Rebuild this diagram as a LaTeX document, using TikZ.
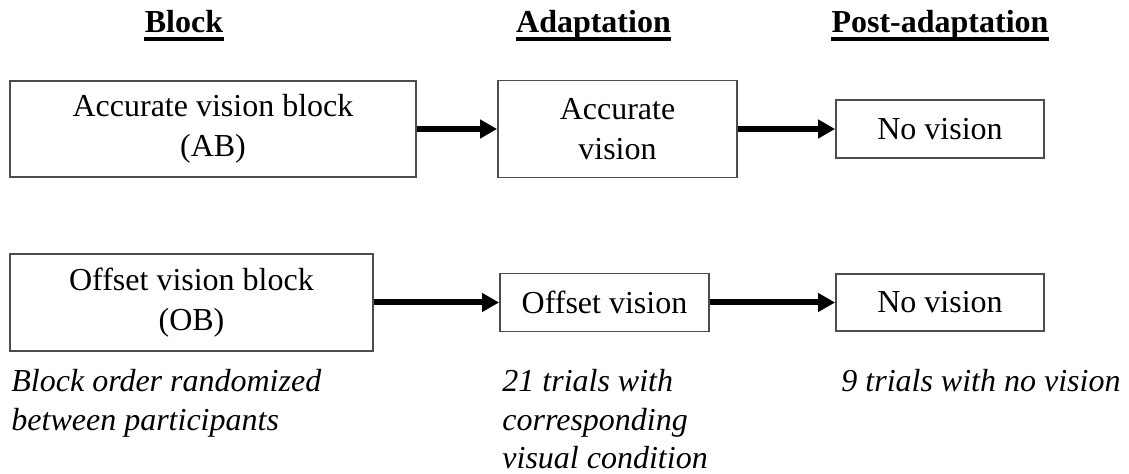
\documentclass[tikz,border=0pt]{standalone}
\usepackage{fontspec}
\setmainfont{Liberation Serif}
\usetikzlibrary{arrows.meta,positioning}

\begin{document}
\begin{tikzpicture}[
    x=0.5pt, y=-0.5pt,
    % Node styles
    stage/.style={rectangle, draw=black!70, line width=0.9pt, align=center, inner sep=0pt, font=\fontsize{16}{20}\selectfont},
    header/.style={inner sep=0pt, anchor=base, font=\fontsize{16}{20}\selectfont\bfseries},
    note/.style={inner sep=0pt, anchor=north west, align=left, font=\fontsize{16}{19.25}\selectfont\itshape},
    flow/.style={-{Triangle[length=8.5pt, width=9pt]}, line width=3pt, black},
    uline/.style={line width=1.7pt, black}
]

\useasboundingbox (0,0) rectangle (1129,474);

% Column headers
\node[header] (blockhdr) at (184,33) {Block};
\node[header] (adapthdr) at (593.5,33) {Adaptation};
\node[header] (posthdr) at (940,33) {Post-adaptation};

\draw[uline] ([yshift=-3pt]blockhdr.base west) -- ([yshift=-3pt]blockhdr.base east);
\draw[uline] ([yshift=-3pt]adapthdr.base west) -- ([yshift=-3pt]adapthdr.base east);
\draw[uline] ([yshift=-3pt]posthdr.base west) -- ([yshift=-3pt]posthdr.base east);

% Accurate vision row
\node[stage, minimum width=203pt, minimum height=48pt] (ab) at (213,129) {Accurate vision block\\(AB)};
\node[stage, minimum width=119.5pt, minimum height=48.5pt] (av) at (617.5,129) {Accurate\\vision};
\node[stage, minimum width=104pt, minimum height=29pt] (nv1) at (940,129) {No vision};

\draw[flow] (ab) -- (av);
\draw[flow] (av) -- (nv1);

% Offset vision row
\node[stage, minimum width=181.5pt, minimum height=48.5pt] (ob) at (191.5,302.5) {Offset vision block\\(OB)};
\node[stage, minimum width=104.5pt, minimum height=29pt] (ov) at (604.5,302.5) {Offset vision};
\node[stage, minimum width=104pt, minimum height=28.5pt] (nv2) at (940,302.5) {No vision};

\draw[flow] (ob) -- (ov);
\draw[flow] (ov) -- (nv2);

% Notes under each column
\node[note] (blocknote) at (11,369) {Block order randomized\\between participants};
\node[note] (adaptnote) at (502,369) {21 trials with\\corresponding\\visual condition};
\node[note] (postnote) at (841,369) {9 trials with no vision};

\end{tikzpicture}
\end{document}
